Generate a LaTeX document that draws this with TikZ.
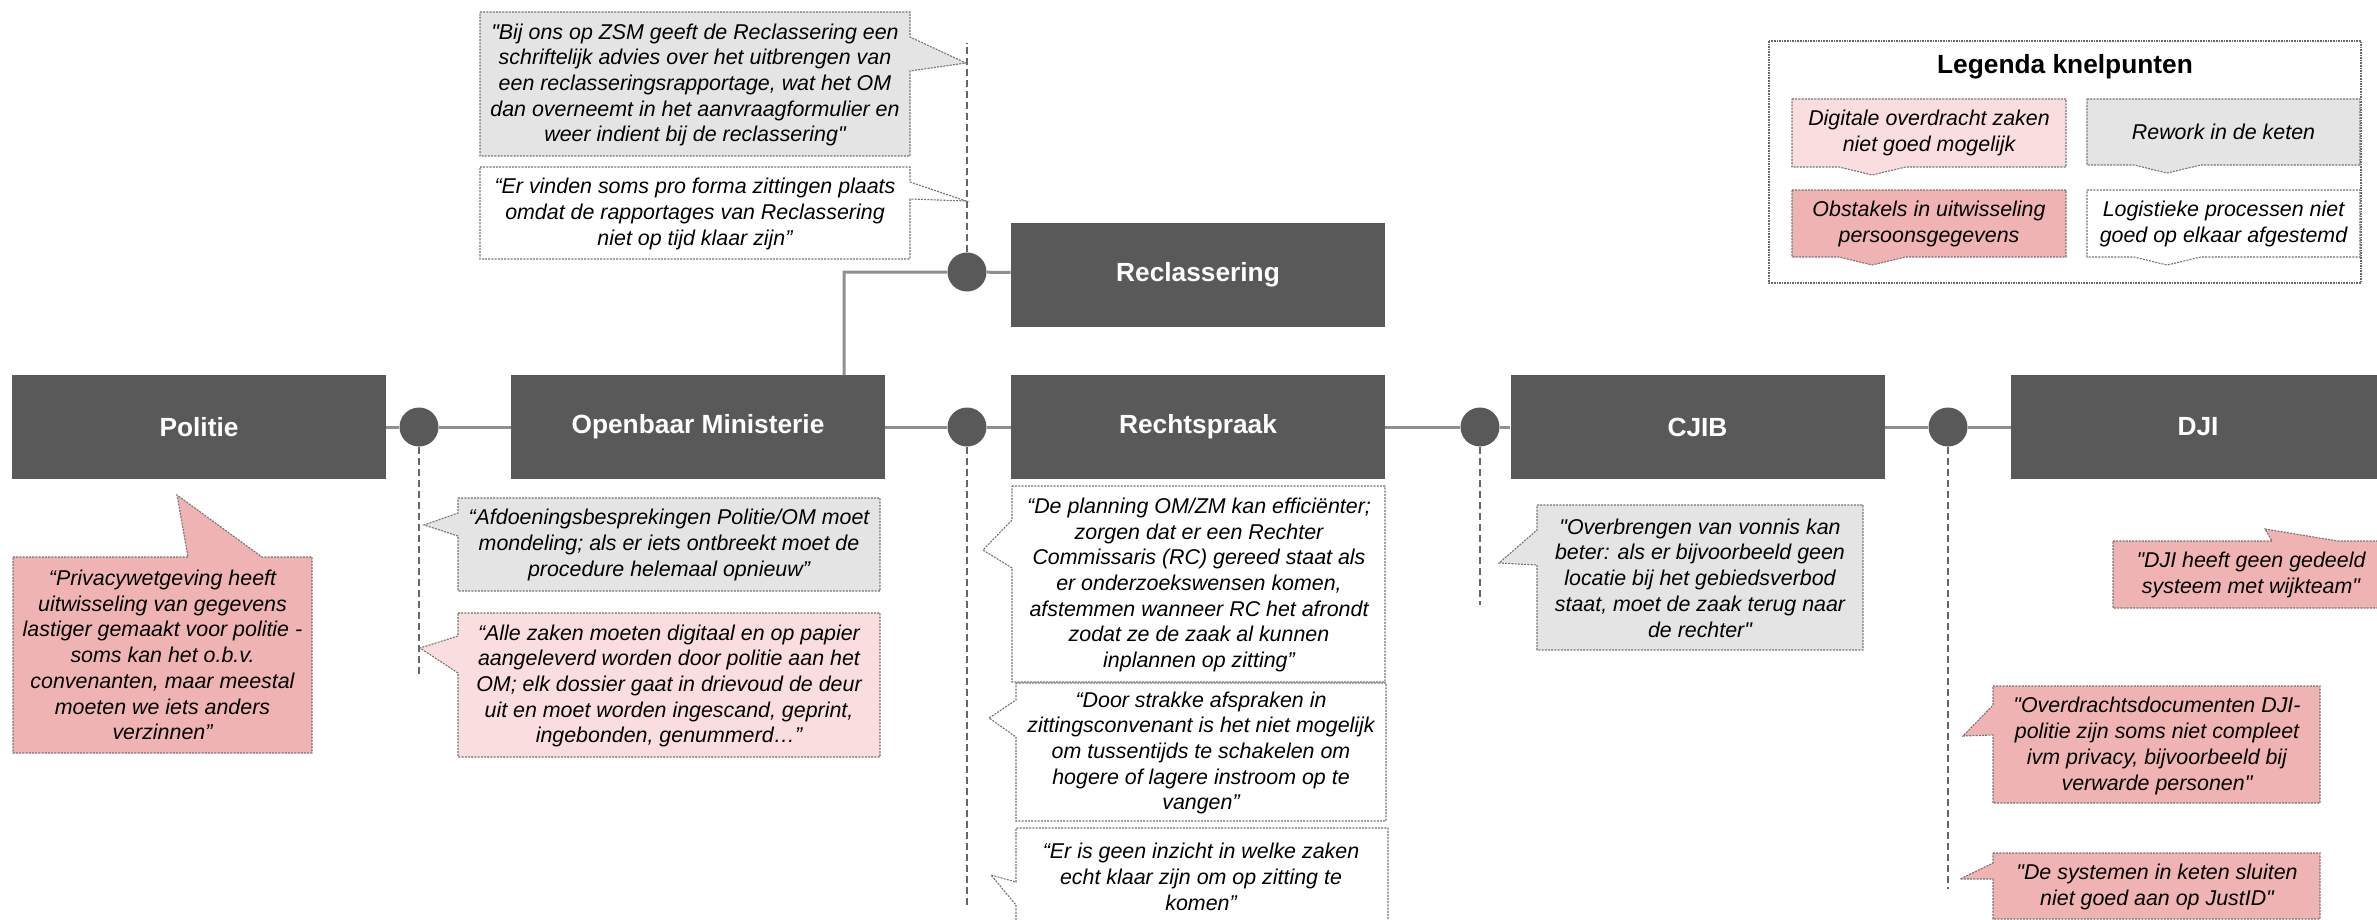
\documentclass[tikz,border=0pt]{standalone}
\usepackage{fontspec}
\setmainfont{Liberation Sans}

\definecolor{unitgray}{HTML}{595959}
\definecolor{linkgray}{HTML}{8F8F8F}
\definecolor{notegray}{HTML}{E4E4E4}
\definecolor{noteblush}{HTML}{FADDDF}
\definecolor{noterose}{HTML}{F0B3B4}
\newcommand\sq{\textquotedbl}

\begin{document}
\begin{tikzpicture}[
  x=0.5pt,y=-0.5pt,
  unit/.style={fill=unitgray,text=white,minimum width=187pt,
    minimum height=52pt,inner sep=0pt,
    font=\fontsize{13.15pt}{15pt}\selectfont\bfseries},
  hub/.style={circle,fill=unitgray,minimum size=19.5pt,inner sep=0pt},
  link/.style={linkgray,line width=1.5pt},
  tether/.style={black!60,line width=0.6pt,dash pattern=on 3.5pt off 2pt},
  note/.style={draw=black!55,line width=0.55pt,dash pattern=on 1pt off 0.6pt},
  notetext/.style={align=center,inner sep=0pt,
    font=\fontsize{10.7pt}{12.85pt}\selectfont\itshape}
]
  \useasboundingbox (0,0) rectangle (2377,920);
  \clip (0,0) rectangle (2377,920);

  % Chain partners.
  \foreach \unitname/\cx/\cy/\unittext in {
    politie/199/427/Politie, om/698/427/Openbaar Ministerie,
    rechtspraak/1198/427/Rechtspraak, cjib/1697.5/427/CJIB,
    dji/2198/427/DJI, reclassering/1198/274.5/Reclassering}
    \node[unit] (\unitname) at (\cx,\cy) {\unittext};

  % Hand-over points.
  \node[hub] (h0) at (967,272) {};
  \node[hub] (h1) at (419,427) {};
  \node[hub] (h2) at (967,427) {};
  \node[hub] (h3) at (1480,427) {};
  \node[hub] (h4) at (1948,427) {};
  \coordinate (omtop) at (844,375);

  \draw[link] (politie) -- (h1) -- (om) -- (h2) -- (rechtspraak)
    -- (h3) -- (cjib) -- (h4) -- (dji);
  \draw[link] (omtop) |- (h0) -- (reclassering);

  % Dashed stems to the quotes.
  \coordinate (t0) at (967,43);
  \coordinate (t1) at (419,677);
  \coordinate (t2) at (967,905);
  \coordinate (t3) at (1480,605);
  \coordinate (t4) at (1948,889);
  \foreach \hubname/\tipname in {h0/t0,h1/t1,h2/t2,h3/t3,h4/t4}
    \draw[tether] (\hubname) -- (\tipname);

  % Quotes pointing left:
  % fill / left / top / right / bottom / pointer top / tip x / tip y / pointer bottom
  \foreach \notefill/\xl/\yt/\xr/\yb/\pa/\tx/\ty/\pb in {
    notegray/458/498/880/591/513/424/525/536,
    noteblush/458/613/880/757/636/420/648/673,
    white/1012/486/1385/682/520/983/550/568,
    white/1016/683/1386/821/700/989/718/737,
    notegray/1537/505/1863/650/530/1499/563/565,
    noterose/1993/686/2320/803/705/1963/736/735,
    noterose/1993/853/2320/919/863/1960/879/879}
    \draw[note,fill=\notefill] (\xl,\yt) -- (\xr,\yt) -- (\xr,\yb)
      -- (\xl,\yb) -- (\xl,\pb) -- (\tx,\ty) -- (\xl,\pa) -- cycle;

  % Last Rechtspraak quote runs off the bottom.
  \draw[note] (1016,920) -- (1016,905) -- (991,875) -- (1016,882)
    -- (1016,828) -- (1388,828) -- (1388,920);

  % Quotes pointing right (Reclassering).
  \draw[note,fill=notegray] (480,12) -- (910,12) -- (910,37) -- (966,63)
    -- (910,71) -- (910,156) -- (480,156) -- cycle;
  \draw[note,fill=white] (480,167) -- (910,167) -- (910,182) -- (966,201)
    -- (910,199) -- (910,259) -- (480,259) -- cycle;

  % Quotes pointing up.
  \draw[note,fill=noterose] (13,557) -- (188,557) -- (177,495) -- (262,557)
    -- (312,557) -- (312,753) -- (13,753) -- cycle;
  \draw[note,fill=noterose] (2113,541) -- (2272,541) -- (2265,529)
    -- (2338,541) -- (2390,541) -- (2390,608) -- (2113,608) -- cycle;

  \node[notetext] (qpolitie) at (162.5,655)
    {“Privacywetgeving heeft\\uitwisseling van gegevens\\lastiger gemaakt voor politie -\\soms kan het o.b.v.\\convenanten, maar meestal\\moeten we iets anders\\verzinnen”};
  \node[notetext] (qom1) at (669,545)
    {“Afdoeningsbesprekingen Politie/OM moet\\mondeling; als er iets ontbreekt moet de\\procedure helemaal opnieuw”};
  \node[notetext] (qom2) at (669,686)
    {“Alle zaken moeten digitaal en op papier\\aangeleverd worden door politie aan het\\OM; elk dossier gaat in drievoud de deur\\uit en moet worden ingescand, geprint,\\ingebonden, genummerd…”};
  \node[notetext] (qrecl1) at (695,85)
    {\sq Bij ons op ZSM geeft de Reclassering een\\schriftelijk advies over het uitbrengen van\\een reclasseringsrapportage, wat het OM\\dan overneemt in het aanvraagformulier en\\weer indient bij de reclassering\sq};
  \node[notetext] (qrecl2) at (695,214)
    {“Er vinden soms pro forma zittingen plaats\\omdat de rapportages van Reclassering\\niet op tijd klaar zijn”};
  \node[notetext] (qrecht1) at (1199,585)
    {“De planning OM/ZM kan efficiënter;\\zorgen dat er een Rechter\\Commissaris (RC) gereed staat als\\er onderzoekswensen komen,\\afstemmen wanneer RC het afrondt\\zodat ze de zaak al kunnen\\inplannen op zitting”};
  \node[notetext] (qrecht2) at (1201,753)
    {“Door strakke afspraken in\\zittingsconvenant is het niet mogelijk\\om tussentijds te schakelen om\\hogere of lagere instroom op te\\vangen”};
  \node[notetext] (qrecht3) at (1201,877)
    {“Er is geen inzicht in welke zaken\\echt klaar zijn om op zitting te\\komen”};
  \node[notetext] (qcjib) at (1700,578)
    {\sq Overbrengen van vonnis kan\\beter: als er bijvoorbeeld geen\\locatie bij het gebiedsverbod\\staat, moet de zaak terug naar\\de rechter\sq};
  \node[notetext] (qdji1) at (2251,575)
    {\sq DJI heeft geen gedeeld\\systeem met wijkteam\sq};
  \node[notetext] (qdji2) at (2157,746)
    {\sq Overdrachtsdocumenten DJI-\\politie zijn soms niet compleet\\ivm privacy, bijvoorbeeld bij\\verwarde personen\sq};
  \node[notetext] (qdji3) at (2157,887)
    {\sq De systemen in keten sluiten\\niet goed aan op JustID\sq};

  % Legend.
  \draw[black!60,line width=0.55pt,dash pattern=on 0.8pt off 0.5pt]
    (1769,41) rectangle (2361,283);
  \node[font=\fontsize{13.15pt}{15pt}\selectfont\bfseries] (legendtitle)
    at (2065,67) {Legenda knelpunten};
  \foreach \notefill/\xl/\yt/\xr/\yb/\nx in {
    noteblush/1792/99/2066/167/1872, notegray/2087/99/2360/165/2167,
    noterose/1792/190/2066/257/1872, white/2087/190/2360/257/2167}
    \draw[note,fill=\notefill] (\xl,\yt) -- (\xr,\yt) -- (\xr,\yb)
      -- (\nx+34,\yb) -- (\nx,\yb+8) -- (\nx-33,\yb) -- (\xl,\yb) -- cycle;
  \node[notetext] (key1) at (1929,133) {Digitale overdracht zaken\\niet goed mogelijk};
  \node[notetext] (key2) at (2223.5,132) {Rework in de keten};
  \node[notetext] (key3) at (1929,224) {Obstakels in uitwisseling\\persoonsgegevens};
  \node[notetext] (key4) at (2223.5,224) {Logistieke processen niet\\goed op elkaar afgestemd};
\end{tikzpicture}
\end{document}
